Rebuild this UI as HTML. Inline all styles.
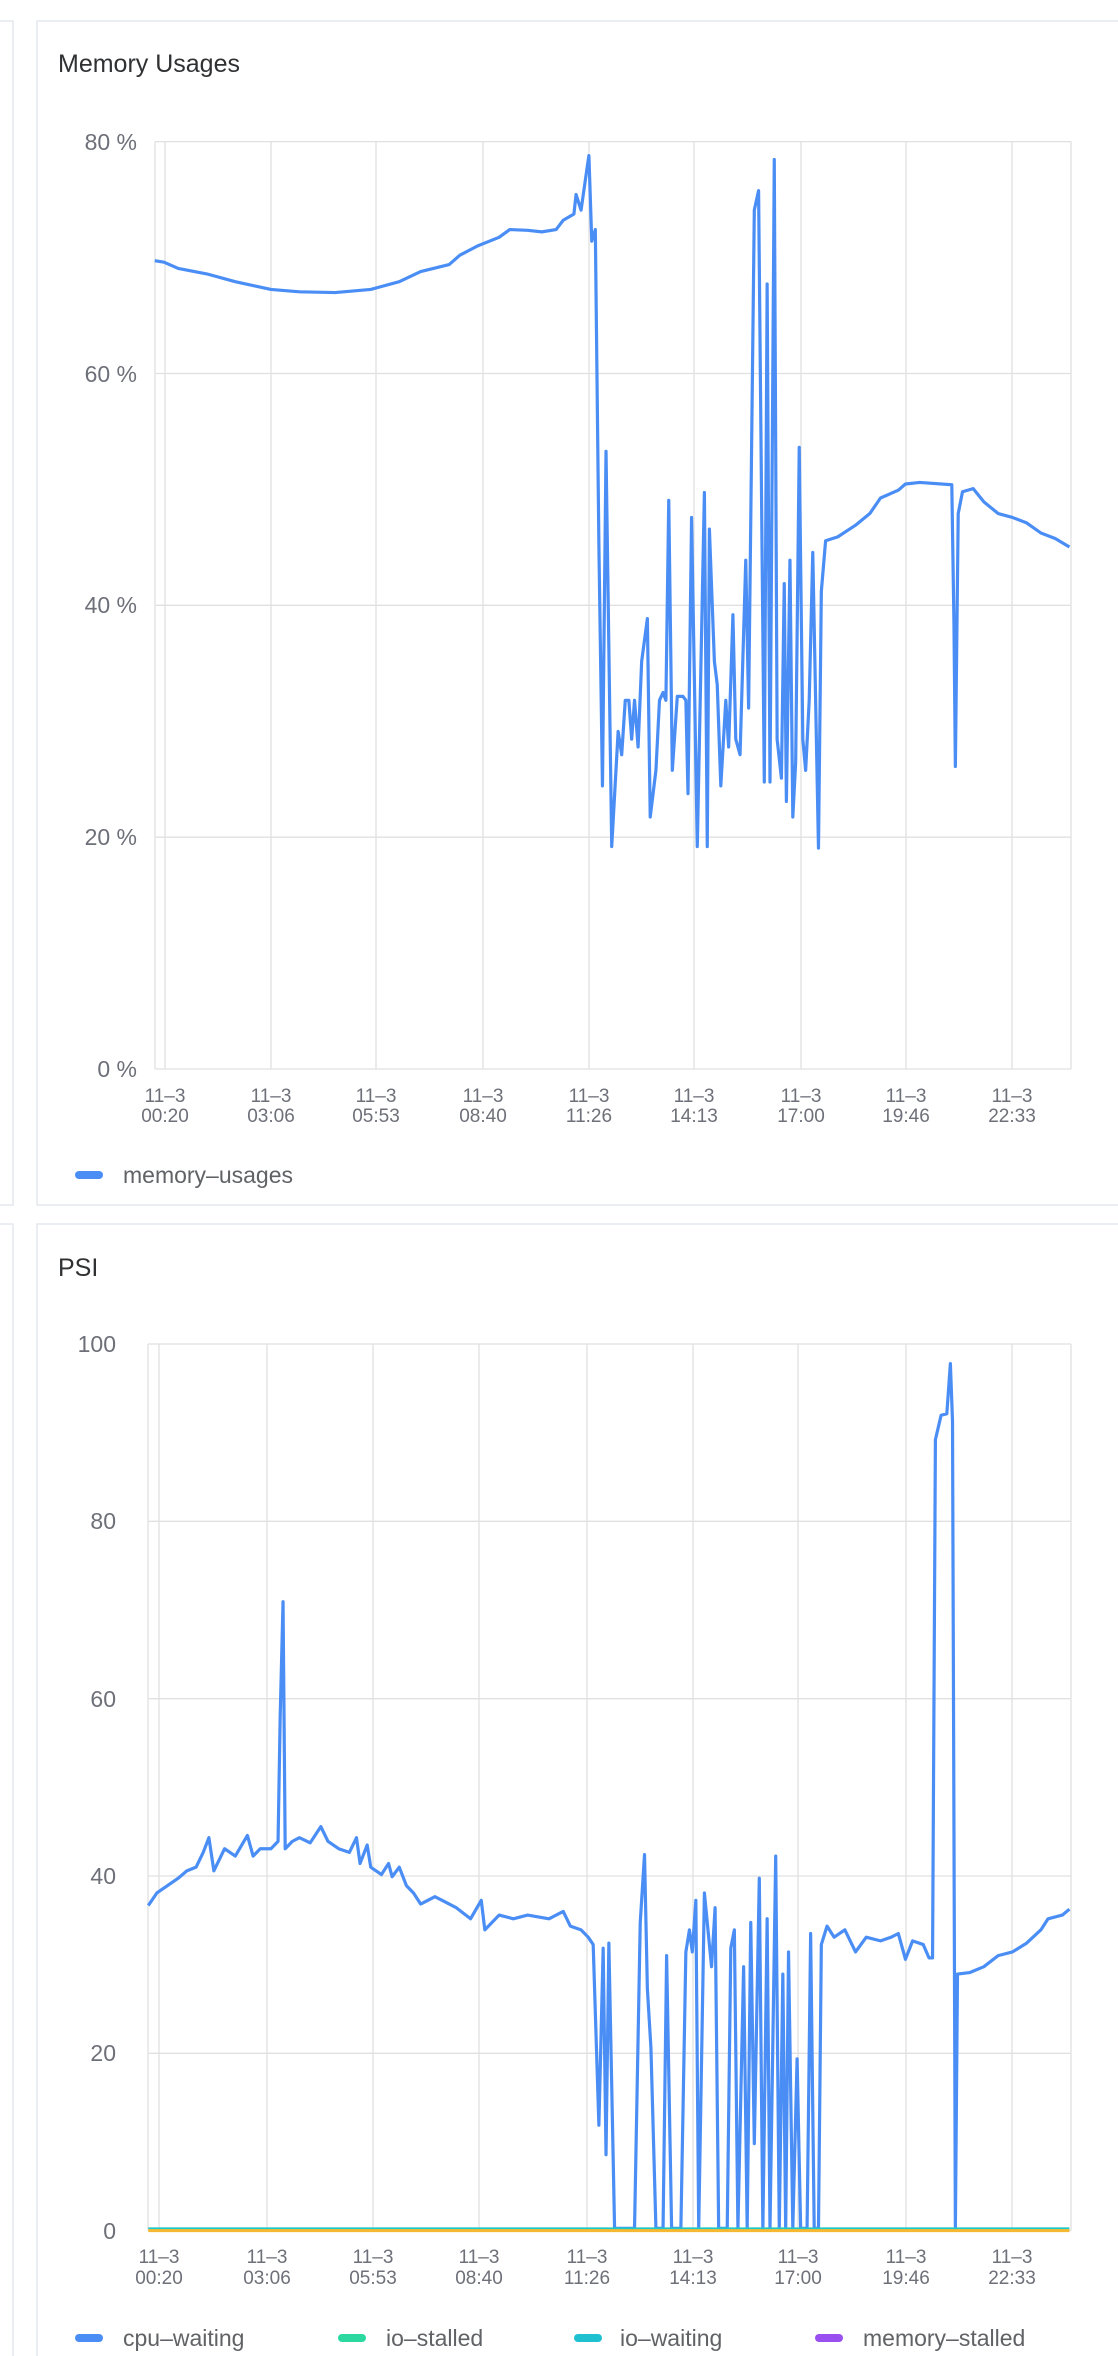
<!DOCTYPE html>
<html><head><meta charset="utf-8"><style>
html,body{margin:0;padding:0;background:#fff;}
svg{display:block;}
text{font-family:"Liberation Sans",sans-serif;}
</style></head><body>
<svg width="1118" height="2356" viewBox="0 0 1118 2356" xmlns="http://www.w3.org/2000/svg">
<rect x="0" y="0" width="1118" height="2356" fill="#fff"/>
<rect x="-20" y="21" width="33" height="1184" fill="none" stroke="#e4e7ed" stroke-width="1.5"/>
<rect x="-20" y="1224" width="33" height="1200" fill="none" stroke="#e4e7ed" stroke-width="1.5"/>
<rect x="37" y="21" width="1100" height="1184" fill="none" stroke="#e4e7ed" stroke-width="1.5"/>
<rect x="37" y="1224" width="1100" height="1200" fill="none" stroke="#e4e7ed" stroke-width="1.5"/>

<!-- Memory chart -->
<text x="58" y="72" font-size="25" fill="#303133">Memory Usages</text>
<g stroke="#e0e0e0" stroke-width="1.3">
<line x1="155" y1="141.6" x2="1071" y2="141.6"/><line x1="155" y1="373.5" x2="1071" y2="373.5"/>
<line x1="155" y1="605.3" x2="1071" y2="605.3"/><line x1="155" y1="837.2" x2="1071" y2="837.2"/>
<line x1="155" y1="1069" x2="1071" y2="1069"/>
<line x1="155" y1="141.6" x2="155" y2="1069"/><line x1="1071" y1="141.6" x2="1071" y2="1069"/>
<line x1="165" y1="141.6" x2="165" y2="1069"/><line x1="271" y1="141.6" x2="271" y2="1069"/>
<line x1="376" y1="141.6" x2="376" y2="1069"/><line x1="483" y1="141.6" x2="483" y2="1069"/>
<line x1="589" y1="141.6" x2="589" y2="1069"/><line x1="694" y1="141.6" x2="694" y2="1069"/>
<line x1="801" y1="141.6" x2="801" y2="1069"/><line x1="906" y1="141.6" x2="906" y2="1069"/>
<line x1="1012" y1="141.6" x2="1012" y2="1069"/>
</g>
<g font-size="23" fill="#6e7079" text-anchor="end">
<text x="137" y="150">80 %</text><text x="137" y="382">60 %</text><text x="137" y="613">40 %</text>
<text x="137" y="845">20 %</text><text x="137" y="1077">0 %</text>
</g>
<g font-size="19" fill="#6e7079" text-anchor="middle">
<text x="165" y="1102">11–3</text><text x="165" y="1122">00:20</text>
<text x="271" y="1102">11–3</text><text x="271" y="1122">03:06</text>
<text x="376" y="1102">11–3</text><text x="376" y="1122">05:53</text>
<text x="483" y="1102">11–3</text><text x="483" y="1122">08:40</text>
<text x="589" y="1102">11–3</text><text x="589" y="1122">11:26</text>
<text x="694" y="1102">11–3</text><text x="694" y="1122">14:13</text>
<text x="801" y="1102">11–3</text><text x="801" y="1122">17:00</text>
<text x="906" y="1102">11–3</text><text x="906" y="1122">19:46</text>
<text x="1012" y="1102">11–3</text><text x="1012" y="1122">22:33</text>
</g>
<g transform="scale(0.71296,0.7781)">
<polyline fill="none" stroke="#4a8ef5" stroke-width="3.2" vector-effect="non-scaling-stroke" stroke-linejoin="round" points="217,335 230,337 250,345 290,352 330,362 380,372 420,375 470,376 520,372 560,362 590,349 630,340 645,328 670,316 700,305 715,295 740,296 760,298 780,295 790,283 805,275 808,250 815,270 822,225 826,200 830,310 835,295 840,700 845,1010 850,580 858,1088 867,940 872,970 877,900 882,900 886,950 890,900 895,960 900,850 908,795 912,1050 920,990 925,900 930,890 934,900 938,643 943,990 950,895 958,895 962,900 965,1020 970,665 978,1088 988,633 992,1088 995,680 1002,850 1006,880 1011,1010 1018,900 1022,960 1028,790 1032,950 1038,970 1046,720 1050,910 1058,270 1064,245 1072,1005 1076,365 1080,1005 1086,205 1090,950 1096,1000 1100,750 1103,1030 1108,720 1112,1050 1116,980 1121,575 1126,950 1130,990 1135,900 1140,710 1148,1090 1152,760 1158,695 1175,690 1200,675 1220,660 1235,640 1260,630 1270,622 1290,620 1335,623 1338,800 1340,985 1344,660 1350,632 1365,628 1380,645 1400,660 1420,665 1440,672 1460,685 1480,692 1500,703"/>
</g>
<rect x="75" y="1171" width="28" height="8" rx="4" fill="#4a8ef5"/>
<text x="123" y="1183" font-size="23" fill="#606266">memory–usages</text>

<!-- PSI chart -->
<text x="58" y="1276" font-size="25" fill="#303133">PSI</text>
<g stroke="#e0e0e0" stroke-width="1.3">
<line x1="148" y1="1344" x2="1071" y2="1344"/><line x1="148" y1="1521.3" x2="1071" y2="1521.3"/>
<line x1="148" y1="1698.7" x2="1071" y2="1698.7"/><line x1="148" y1="1876" x2="1071" y2="1876"/>
<line x1="148" y1="2053.3" x2="1071" y2="2053.3"/><line x1="148" y1="2230.6" x2="1071" y2="2230.6"/>
<line x1="148" y1="1344" x2="148" y2="2230.6"/><line x1="1071" y1="1344" x2="1071" y2="2230.6"/>
<line x1="159" y1="1344" x2="159" y2="2230.6"/><line x1="267" y1="1344" x2="267" y2="2230.6"/>
<line x1="373" y1="1344" x2="373" y2="2230.6"/><line x1="479" y1="1344" x2="479" y2="2230.6"/>
<line x1="587" y1="1344" x2="587" y2="2230.6"/><line x1="693" y1="1344" x2="693" y2="2230.6"/>
<line x1="798" y1="1344" x2="798" y2="2230.6"/><line x1="906" y1="1344" x2="906" y2="2230.6"/>
<line x1="1012" y1="1344" x2="1012" y2="2230.6"/>
</g>
<g font-size="23" fill="#6e7079" text-anchor="end">
<text x="116" y="1352">100</text><text x="116" y="1529">80</text><text x="116" y="1707">60</text>
<text x="116" y="1884">40</text><text x="116" y="2061">20</text><text x="116" y="2239">0</text>
</g>
<g font-size="19" fill="#6e7079" text-anchor="middle">
<text x="159" y="2263">11–3</text><text x="159" y="2284">00:20</text>
<text x="267" y="2263">11–3</text><text x="267" y="2284">03:06</text>
<text x="373" y="2263">11–3</text><text x="373" y="2284">05:53</text>
<text x="479" y="2263">11–3</text><text x="479" y="2284">08:40</text>
<text x="587" y="2263">11–3</text><text x="587" y="2284">11:26</text>
<text x="693" y="2263">11–3</text><text x="693" y="2284">14:13</text>
<text x="798" y="2263">11–3</text><text x="798" y="2284">17:00</text>
<text x="906" y="2263">11–3</text><text x="906" y="2284">19:46</text>
<text x="1012" y="2263">11–3</text><text x="1012" y="2284">22:33</text>
</g>
<g transform="translate(0,1200) scale(0.71296,0.7372)">
<polyline fill="none" stroke="#4a8ef5" stroke-width="3.2" vector-effect="non-scaling-stroke" stroke-linejoin="round" points="208,957 220,940 235,930 250,920 262,910 275,905 285,885 293,865 300,910 315,880 330,890 347,862 355,890 365,880 380,880 390,870 393,700 397,545 400,880 410,870 420,865 435,872 450,850 460,870 475,880 490,885 500,865 505,900 515,875 520,905 535,915 545,900 550,918 560,905 570,930 580,940 590,955 610,945 620,950 640,960 660,975 675,950 680,990 700,970 720,975 740,970 770,975 790,965 800,985 815,990 825,1000 832,1010 840,1255 846,1015 850,1295 854,1008 862,1395 890,1395 898,980 904,888 908,1070 913,1150 920,1395 930,1395 935,1025 942,1395 955,1395 962,1020 967,990 971,1020 976,950 980,1395 988,940 998,1040 1003,960 1008,1395 1020,1395 1025,1015 1030,990 1035,1395 1043,1040 1048,1395 1053,980 1058,1280 1065,920 1070,1395 1076,975 1080,1395 1088,890 1093,1395 1098,1050 1102,1395 1106,1020 1112,1395 1118,1165 1123,1395 1132,1395 1137,995 1142,1395 1148,1395 1152,1010 1160,985 1170,1000 1185,990 1200,1020 1215,1000 1235,1005 1250,1000 1260,995 1270,1030 1280,1005 1295,1010 1303,1028 1308,1028 1312,325 1320,292 1328,290 1333,222 1336,300 1340,1395 1343,1050 1360,1048 1380,1040 1400,1025 1420,1020 1440,1008 1460,990 1470,975 1490,970 1500,962"/>
<line x1="208" y1="1395" x2="1500" y2="1395" stroke="#1fc8c8" stroke-width="2" vector-effect="non-scaling-stroke"/>
<line x1="208" y1="1398" x2="1500" y2="1398" stroke="#f5b830" stroke-width="3" vector-effect="non-scaling-stroke"/>
</g>
<rect x="75" y="2334" width="28" height="8" rx="4" fill="#4a8ef5"/>
<text x="123" y="2346" font-size="23" fill="#606266">cpu–waiting</text>
<rect x="338" y="2334" width="28" height="8" rx="4" fill="#2bd9a0"/>
<text x="386" y="2346" font-size="23" fill="#606266">io–stalled</text>
<rect x="574" y="2334" width="28" height="8" rx="4" fill="#1fc0d0"/>
<text x="620" y="2346" font-size="23" fill="#606266">io–waiting</text>
<rect x="815" y="2334" width="28" height="8" rx="4" fill="#9a50f0"/>
<text x="863" y="2346" font-size="23" fill="#606266">memory–stalled</text>
</svg>
</body></html>
